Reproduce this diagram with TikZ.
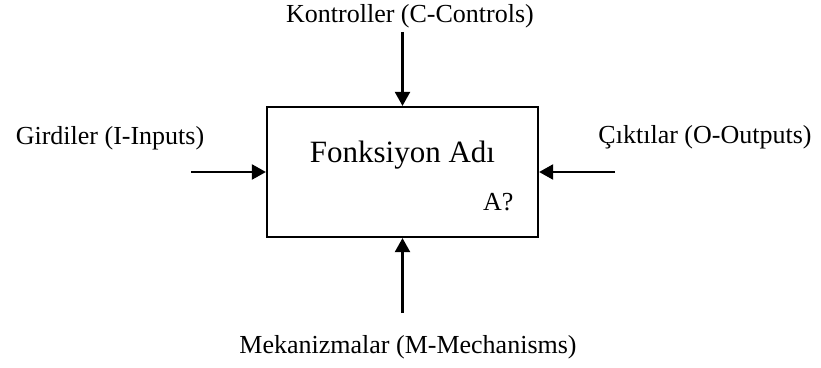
\documentclass[tikz,border=0pt]{standalone}
\usepackage{fontspec}
\setmainfont{Liberation Serif}
\usetikzlibrary{arrows.meta}
\begin{document}
\begin{tikzpicture}[x=1pt,y=1pt,
  label text/.style={anchor=base,inner sep=0pt,font=\fontsize{26}{30}\selectfont},
  title text/.style={anchor=base,inner sep=0pt,font=\fontsize{31}{36}\selectfont},
  funcbox/.style={draw,line width=2.2pt,minimum width=271pt,minimum height=130pt,inner sep=0pt},
  flow/.style={line width=2.2pt,-{Triangle[length=14pt,width=15pt]}}]
\useasboundingbox (0,0) rectangle (821,367);
% function box
\node[funcbox] (box) at (402.5,195) {};
\node[title text] (name) at (402.5,204) {Fonksiyon Adı};
\node[label text,anchor=base west] (id) at (483,157) {A?};
% ICOM labels
\node[label text] (ctl) at (410,344) {Kontroller (C-Controls)};
\node[label text] (inp) at (110,222) {Girdiler (I-Inputs)};
\node[label text] (out) at (705,223) {Çıktılar (O-Outputs)};
\node[label text] (mech) at (408,14) {Mekanizmalar (M-Mechanisms)};
% arrow tails
\coordinate (ctlstart) at (box.north |- 0,335);
\coordinate (inpstart) at (191,0 |- box.west);
\coordinate (outstart) at (615,0 |- box.east);
\coordinate (mechstart) at (box.south |- 0,54);
% arrows into the box
\draw[flow] (ctlstart) -- (box.north);
\draw[flow] (inpstart) -- (box.west);
\draw[flow] (outstart) -- (box.east);
\draw[flow] (mechstart) -- (box.south);
\end{tikzpicture}
\end{document}
